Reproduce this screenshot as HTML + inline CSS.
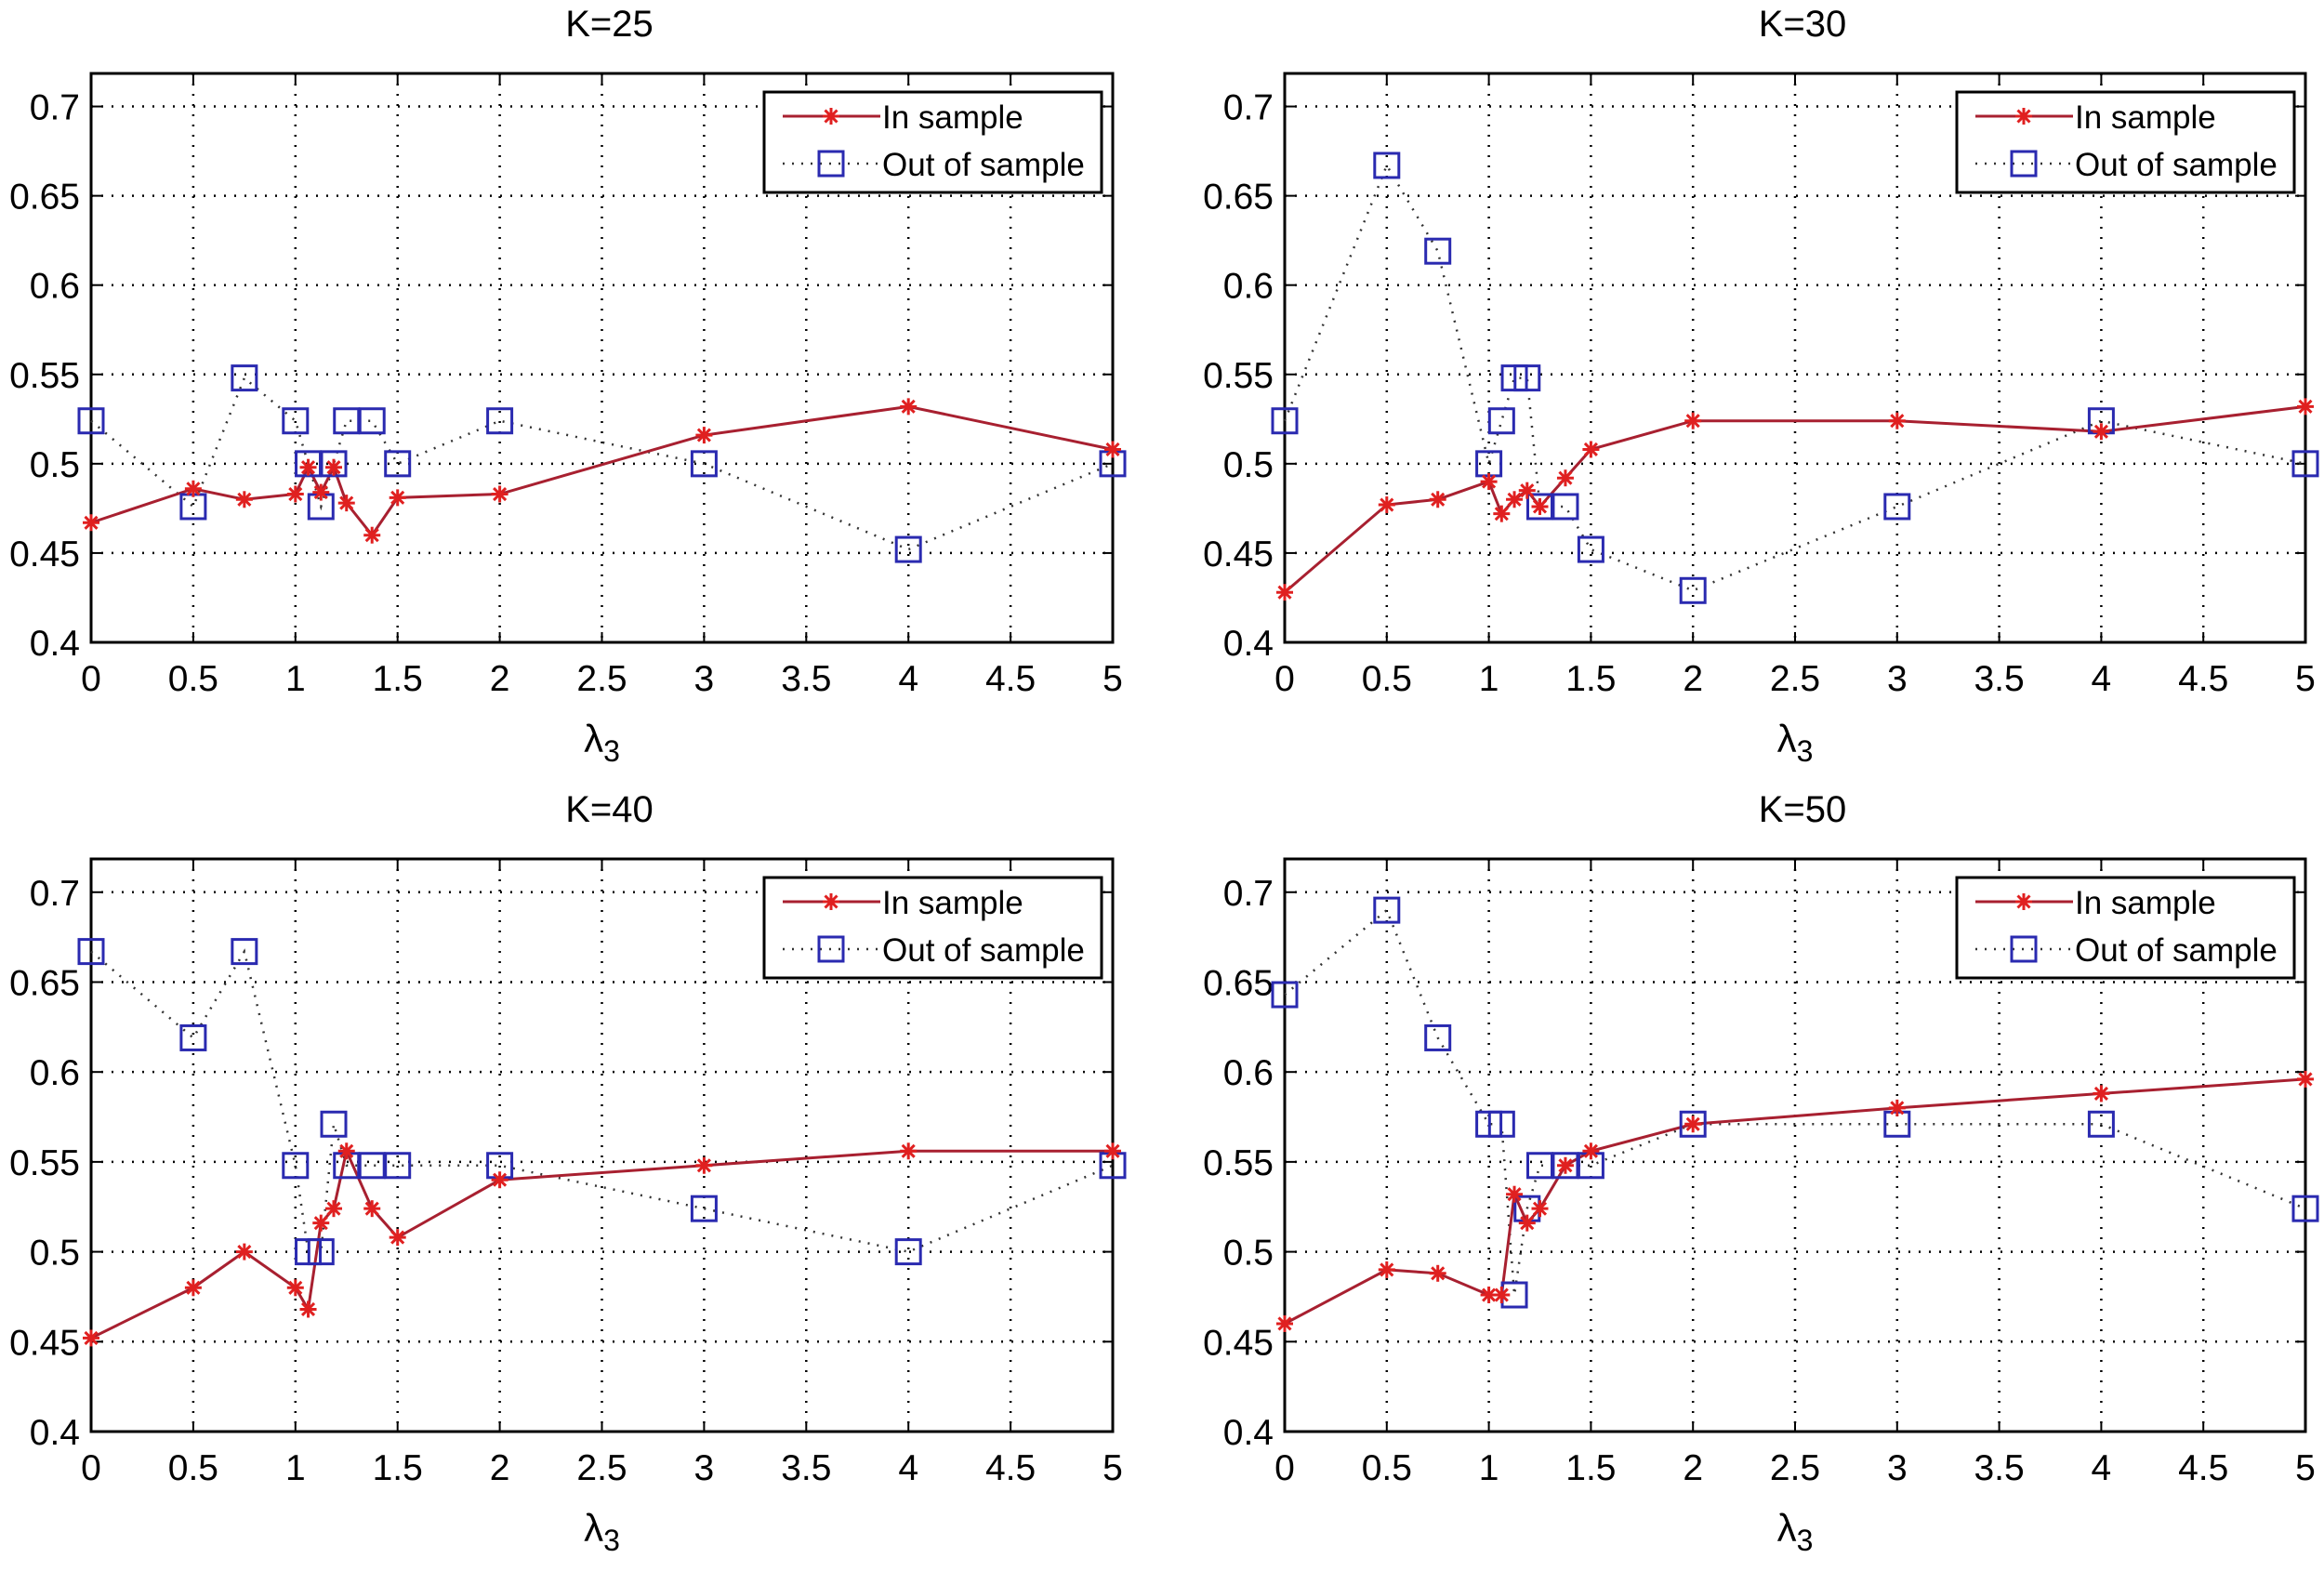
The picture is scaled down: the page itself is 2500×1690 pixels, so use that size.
<!DOCTYPE html>
<html><head><meta charset="utf-8"><style>
html,body{margin:0;padding:0;background:#fff;}
svg{display:block;font-family:"Liberation Sans",sans-serif;}
</style></head><body>
<svg id="fig" width="2500" height="1690" viewBox="0 0 2500 1690" xmlns="http://www.w3.org/2000/svg"></svg>
<script>
const xVals = [0,0.5,0.75,1,1.0625,1.125,1.1875,1.25,1.375,1.5,2,3,4,5];
const xTicks = [0,0.5,1,1.5,2,2.5,3,3.5,4,4.5,5];
const xTickLabels = ["0","0.5","1","1.5","2","2.5","3","3.5","4","4.5","5"];
const yTicks = [0.4,0.45,0.5,0.55,0.6,0.65,0.7];
const yTickLabels = ["0.4","0.45","0.5","0.55","0.6","0.65","0.7"];
const panelTitles = ["K=25","K=30","K=40","K=50"];
const inK25 = [0.467,0.486,0.480,0.483,0.498,0.484,0.498,0.478,0.460,0.481,0.483,0.516,0.532,0.508];
const outK25 = [0.524,0.476,0.548,0.524,0.5,0.476,0.5,0.524,0.524,0.5,0.524,0.5,0.452,0.5];
const inK30 = [0.428,0.477,0.480,0.490,0.472,0.480,0.485,0.476,0.492,0.508,0.524,0.524,0.518,0.532];
const outK30 = [0.524,0.667,0.619,0.5,0.524,0.548,0.548,0.476,0.476,0.452,0.429,0.476,0.524,0.5];
const inK40 = [0.452,0.480,0.500,0.480,0.468,0.516,0.524,0.556,0.524,0.508,0.540,0.548,0.556,0.556];
const outK40 = [0.667,0.619,0.667,0.548,0.5,0.5,0.571,0.548,0.548,0.548,0.548,0.524,0.5,0.548];
const inK50 = [0.460,0.490,0.488,0.476,0.476,0.532,0.516,0.524,0.548,0.556,0.571,0.580,0.588,0.596];
const outK50 = [0.643,0.690,0.619,0.571,0.571,0.476,0.524,0.548,0.548,0.548,0.571,0.571,0.571,0.524];

const inSeries = [inK25,inK30,inK40,inK50];
const outSeries = [outK25,outK30,outK40,outK50];
const boxes = [[98,1197,79,691],[1382,2480,79,691],[98,1197,924,1540],[1382,2480,924,1540]];
const Y0=0.4, Y1=0.7185, X0=0, X1=5;
const NS="http://www.w3.org/2000/svg";
const svg=document.getElementById('fig');
function mk(tag,attrs,parent){const e=document.createElementNS(NS,tag);for(const k in attrs)e.setAttribute(k,attrs[k]);(parent||svg).appendChild(e);return e;}

function star(g,x,y){
  const s=mk('g',{stroke:'#e02020','stroke-width':3},g);
  
  
  const r=9;
  mk('line',{x1:x-r,y1:y,x2:x+r,y2:y},s);
  mk('line',{x1:x,y1:y-r,x2:x,y2:y+r},s);
  mk('line',{x1:x-6.5,y1:y-6.5,x2:x+6.5,y2:y+6.5},s);
  mk('line',{x1:x-6.5,y1:y+6.5,x2:x+6.5,y2:y-6.5},s);
}
function square(g,x,y){
  const s=mk('rect',{x:x-13,y:y-13,width:26,height:26,fill:'none',stroke:'#2a2ab0','stroke-width':3},g);
  
  
}

boxes.forEach((b,i)=>{
  const [L,R,T,B]=b;
  const sx=v=>L+(v-X0)/(X1-X0)*(R-L);
  const sy=v=>B-(v-Y0)/(Y1-Y0)*(B-T);
  const g=mk('g',{});
  
  
  const grid=mk('g',{stroke:'#000','stroke-width':2.5,'stroke-dasharray':'2 9'},g);
  
  
  xTicks.forEach(v=>{ if(v>X0&&v<X1) mk('line',{x1:sx(v),y1:T,x2:sx(v),y2:B},grid); });
  yTicks.forEach(v=>{ if(v>Y0) mk('line',{x1:L,y1:sy(v),x2:R,y2:sy(v)},grid); });
  const tk=mk('g',{stroke:'#000','stroke-width':2},g);
  xTicks.forEach(v=>{ mk('line',{x1:sx(v),y1:B,x2:sx(v),y2:B-11},tk); mk('line',{x1:sx(v),y1:T,x2:sx(v),y2:T+11},tk); });
  yTicks.forEach(v=>{ mk('line',{x1:L,y1:sy(v),x2:L+11,y2:sy(v)},tk); mk('line',{x1:R,y1:sy(v),x2:R-11,y2:sy(v)},tk); });
  const ax=mk('rect',{x:L,y:T,width:R-L,height:B-T,fill:'none',stroke:'#000','stroke-width':3},g);
  
  
  xTicks.forEach((v,j)=>{ const t=mk('text',{x:sx(v),y:B+52,'text-anchor':'middle','font-size':39},g); t.textContent=xTickLabels[j];
      });
  yTicks.forEach((v,j)=>{ const t=mk('text',{x:L-12,y:sy(v)+14,'text-anchor':'end','font-size':39},g); t.textContent=yTickLabels[j];
      });
  const tt=mk('text',{x:(L+R)/2+8,y:T-40,'text-anchor':'middle','font-size':40},g); tt.textContent=panelTitles[i];
   
  const xl=mk('text',{x:(L+R)/2,y:B+118,'text-anchor':'middle','font-size':42},g);
   
  xl.textContent='λ'; const sub=mk('tspan',{dy:10,'font-size':32},xl); sub.textContent='3';
  const op=mk('polyline',{points:xVals.map((x,k)=>sx(x)+','+sy(outSeries[i][k])).join(' '),fill:'none',stroke:'#333','stroke-width':2.5,'stroke-dasharray':'2 8'},g);
   
  const ip=mk('polyline',{points:xVals.map((x,k)=>sx(x)+','+sy(inSeries[i][k])).join(' '),fill:'none',stroke:'#a82030','stroke-width':3},g);
   
  xVals.forEach((x,k)=>square(g,sx(x),sy(outSeries[i][k])));
  xVals.forEach((x,k)=>star(g,sx(x),sy(inSeries[i][k])));
  const lg=mk('g',{},g);
   
  const lx=R-375, ly=T+20;
  mk('rect',{x:lx,y:ly,width:363,height:108,fill:'#fff',stroke:'#000','stroke-width':3},lg);
  mk('line',{x1:lx+20,y1:ly+26,x2:lx+125,y2:ly+26,stroke:'#a82030','stroke-width':3},lg);
  star(lg,lx+72,ly+26);
  const t1=mk('text',{x:lx+127,y:ly+39,'font-size':35},lg); t1.textContent='In sample';
   
  mk('line',{x1:lx+20,y1:ly+77,x2:lx+125,y2:ly+77,stroke:'#333','stroke-width':2.5,'stroke-dasharray':'2 8'},lg);
  square(lg,lx+72,ly+77);
  const t2=mk('text',{x:lx+127,y:ly+90,'font-size':35},lg); t2.textContent='Out of sample';
   
});
</script>
</body></html>
